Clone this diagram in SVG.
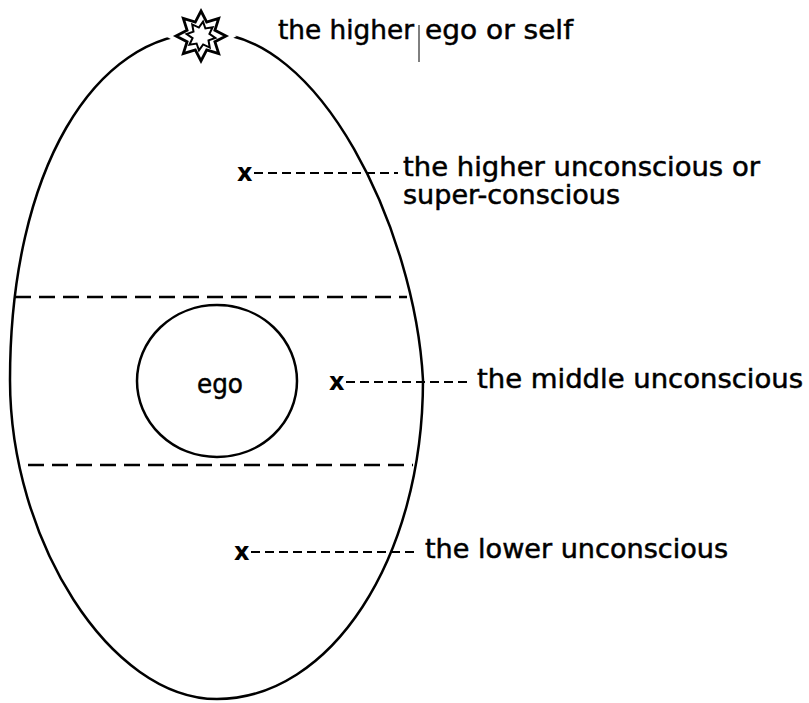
<svg xmlns="http://www.w3.org/2000/svg" width="809" height="703" viewBox="0 0 809 703">
<style>
.lbl{font-family:"DejaVu Sans","Liberation Sans",sans-serif;font-size:26px;fill:#000;stroke:#000;stroke-width:0.5}
.mark{font-family:"DejaVu Sans","Liberation Sans",sans-serif;font-size:24px;font-weight:bold;fill:#000}
.outline{fill:none;stroke:#000;stroke-width:2.5}
.band{fill:none;stroke:#000;stroke-width:2.5;stroke-dasharray:16 8}
.lead{fill:none;stroke:#000;stroke-width:2;stroke-dasharray:9 5}
</style>
<defs>
<polygon id="star8" points="0,-25 5.7,-13.9 17.7,-17.7 13.9,-5.7 25,0 13.9,5.7 17.7,17.7 5.7,13.9 0,25 -5.7,13.9 -17.7,17.7 -13.9,5.7 -25,0 -13.9,-5.7 -17.7,-17.7 -5.7,-13.9"/>
</defs>
<rect width="809" height="703" fill="#fff"/>
<g id="egg">
<path class="outline" d="M205,33 C320,30 415,230 423,380 C423,560 330,699 217,699 C110,699 10,540 10,380 C10,170 95,33 205,33 Z"/>
</g>
<g id="self">
<g transform="translate(201,36)">
<use href="#star8" fill="#fff" stroke="#fff" stroke-width="10"/>
<use href="#star8" fill="#fff" stroke="#000" stroke-width="2.8"/>
<use href="#star8" transform="scale(0.58) rotate(8)" fill="none" stroke="#000" stroke-width="3.5"/>
</g>
<text class="lbl" x="278" y="39" textLength="136" lengthAdjust="spacingAndGlyphs">the higher</text>
<line x1="419" y1="25" x2="419" y2="62" stroke="#000" stroke-width="1"/>
<text class="lbl" x="425" y="39" textLength="148" lengthAdjust="spacingAndGlyphs">ego or self</text>
</g>
<g id="bands">
<line class="band" x1="15" y1="297" x2="407" y2="297"/>
<line class="band" x1="28" y1="465" x2="413" y2="465"/>
</g>
<g id="ego">
<ellipse class="outline" cx="217" cy="381" rx="80" ry="76"/>
<text class="lbl" x="197" y="393" textLength="46" lengthAdjust="spacingAndGlyphs">ego</text>
</g>
<g id="higher-unconscious">
<text class="mark" x="237" y="181">x</text>
<text class="lbl" x="403" y="176" textLength="357" lengthAdjust="spacingAndGlyphs">the higher unconscious or</text>
<text class="lbl" x="403" y="204" textLength="217" lengthAdjust="spacingAndGlyphs">super-conscious</text>
</g>
<g id="middle-unconscious">
<text class="mark" x="329" y="390">x</text>
<text class="lbl" x="477" y="388" textLength="326" lengthAdjust="spacingAndGlyphs">the middle unconscious</text>
</g>
<g id="lower-unconscious">
<text class="mark" x="234" y="560">x</text>
<text class="lbl" x="425" y="558" textLength="303" lengthAdjust="spacingAndGlyphs">the lower unconscious</text>
</g>
<g id="connectors">
<line class="lead" x1="254" y1="173" x2="398" y2="173"/>
<line class="lead" x1="346" y1="382" x2="470" y2="382"/>
<line class="lead" x1="251" y1="552" x2="418" y2="552"/>
</g>
</svg>
